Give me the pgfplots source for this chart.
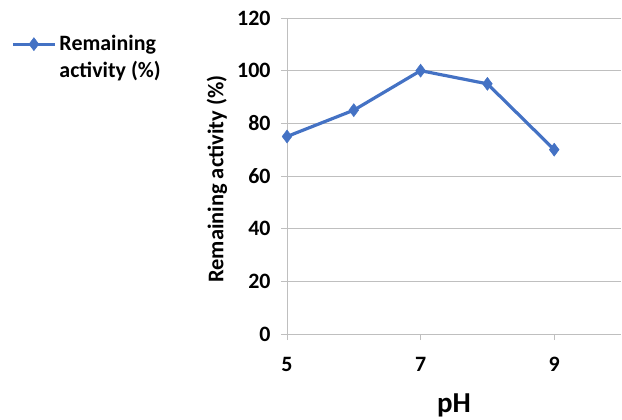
\documentclass[border=0pt]{standalone}
\usepackage{pgfplots}
\pgfplotsset{compat=1.18}
\usepackage{fontspec}
\setmainfont{Carlito}
\definecolor{exblue}{HTML}{4472C4}
\definecolor{gridc}{HTML}{BFBFBF}
\begin{document}
\begin{tikzpicture}[x=1bp,y=1bp]
\useasboundingbox (0,0) rectangle (622,419);
\begin{axis}[
  at={(287bp,85bp)}, anchor=south west,
  scale only axis, width=334bp, height=316bp,
  xmin=5, xmax=10, ymin=0, ymax=120,
  xtick={5,7,9}, ytick={0,20,...,120},
  axis x line=bottom, axis y line=left,
  axis line style={draw=gridc, line width=0.9pt, -},
  tick align=outside, major tick length=6bp,
  tick style={draw=gridc, line width=0.9pt},
  ymajorgrids, grid style={draw=gridc, line width=0.9pt},
  /pgf/number format/assume math mode=true,
  ticklabel style={font=\bfseries\fontsize{22}{22}\selectfont},
  xticklabel style={yshift=-14bp},
  yticklabel style={xshift=-7bp},
  xlabel={pH},
  xlabel style={font=\bfseries\fontsize{29}{29}\selectfont, at={(axis description cs:0.5,0)}, anchor=north, yshift=-56bp},
  ylabel={Remaining activity (\%)},
  ylabel style={font=\bfseries\fontsize{22.5}{22.5}\selectfont, at={(axis description cs:-0.21,0.49)}, anchor=center},
  legend style={at={(axis description cs:-0.826,0.946)}, anchor=north west, draw=none, fill=none,
    font=\bfseries\fontsize{22}{27}\selectfont, nodes={align=left, inner xsep=3bp, inner ysep=0pt}, inner sep=0pt},
  legend cell align=left,
  legend image code/.code={
    \draw[#1, mark=none] (0bp,13bp) -- (42bp,13bp);
    \draw[#1, only marks] plot coordinates {(21bp,13bp)};
  },
]
\addplot[color=exblue, line width=3.2pt, mark=diamond*, mark size=6.5bp, mark options={fill=exblue, line width=0.5pt}]
  coordinates {(5,75) (6,85) (7,100) (8,95) (9,70)};
\addlegendentry{Remaining\\activity (\%)}
\end{axis}
\end{tikzpicture}
\end{document}
